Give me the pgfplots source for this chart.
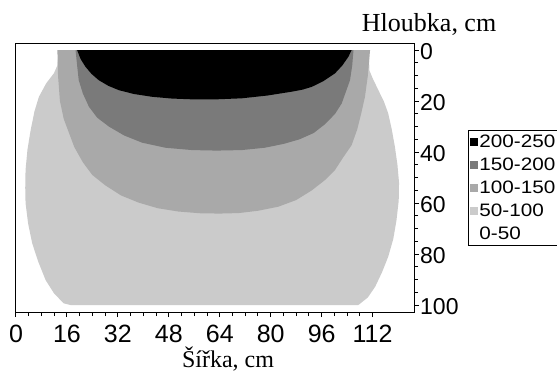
\documentclass[border=0pt]{standalone}
\usepackage{fontspec}
\usepackage{pgfplots}
\pgfplotsset{compat=1.18}
\newfontfamily\serif{Liberation Serif}
\newfontfamily\sans{Liberation Sans}
\newfontfamily\legfont[FakeStretch=1.15]{Liberation Sans}
\definecolor{cL}{HTML}{CBCBCB}
\definecolor{cM}{HTML}{A9A9A9}
\definecolor{cD}{HTML}{7A7A7A}
\definecolor{cB}{HTML}{000000}
\begin{document}
\begin{tikzpicture}
\begin{axis}[
 name=ax, at={(0,0)}, anchor=south west,
 scale only axis, width=398pt, height=268pt,
 xmin=0, xmax=125, ymin=-2.4, ymax=102.7, y dir=reverse,
 axis line style={line width=1pt},
 xtick={0,16,...,112}, minor x tick num=3,
 ytick={0,20,...,100}, minor y tick num=3,
 xtick pos=bottom, ytick pos=right, yticklabel pos=right,
 tick align=outside, major tick length=5pt, minor tick length=4pt,
 tick style={line width=1pt, black},
 /pgf/number format/assume math mode=true,
 xticklabel style={font=\sans\fontsize{25}{26}\selectfont, yshift=-5pt},
 yticklabel style={font=\sans\fontsize{23}{24}\selectfont, inner sep=1pt, yshift=-1pt},
 every axis x label/.style={at={(axis description cs:0.5327,-0.2127)}, anchor=base, yshift=2pt, inner sep=0pt, font=\serif\fontsize{24}{25}\selectfont},
 every axis y label/.style={at={(axis description cs:1.038,1.046)}, anchor=base, font=\serif\fontsize{26}{26}\selectfont},
 xlabel={Šířka, cm}, ylabel={Hloubka, cm},
 legend style={at={(axis description cs:1.1357,0.679)}, anchor=north west, draw=black, line width=0.8pt,
   font=\legfont\fontsize{18}{20}\selectfont, inner xsep=2pt, inner ysep=3pt, row sep=6pt,
   nodes={inner sep=1pt, text height=13pt, text depth=2pt}},
 legend cell align=left,
 legend image code/.code={\fill[#1, draw=none] (0pt,-4pt) rectangle (8pt,4pt);},
]
% 50-100
\addplot[fill=cL, draw=none, forget plot] coordinates {
(13.5,0) (13,6) (11.9,9.1) (9.5,13) (7.2,18.3) (5.8,24) (4.6,31.4) (3.6,39) (3.0,47) (2.9,54) (3.0,60) (3.8,68) (5.1,75.8) (7,83) (9.3,90.2) (12,95.5) (15,99.3) (17.2,100)
(107.5,100) (110.5,97) (112.8,92.8) (115,87) (116.9,81) (118.5,74) (119.5,66.7) (120.2,59) (120.3,52) (119.8,45) (119,37.9) (118,31) (116.9,24.8) (115.5,20) (113.8,15.7) (112,11) (111,8) (110.8,0)
} --cycle;
% 100-150
\addplot[fill=cM, draw=none, forget plot] coordinates {
(13,0) (13.2,10) (13.8,20) (15,27) (16.5,32) (18.3,38) (21,44) (24,49) (28,53) (33,57) (38.5,59.8) (44.5,62) (51,63.3) (58,64) (64,64.1) (70,63.9) (76,63) (82.4,61.4) (88,58.8) (92.9,55) (97,51) (100.2,47) (102.8,42) (105.4,37.3) (107.2,31) (108.4,25) (109.6,18.3) (110.5,10) (111.2,0)
} --cycle;
% 150-200
\addplot[fill=cD, draw=none, forget plot] coordinates {
(18.7,0) (19.2,6) (19.7,11.8) (21,17) (22.9,22.2) (25.5,26.5) (29.2,30) (34,33.5) (39.6,36.3) (47,38.3) (55.3,39.2) (63,39.4) (70.9,39.2) (78,38.3) (84,36.8) (89,35) (93.5,32.5) (97.1,29) (100.2,25) (102.3,20.9) (103.7,16) (104.9,11.8) (105.6,6) (106,0)
} --cycle;
% 200-250
\addplot[fill=cB, draw=none, forget plot] coordinates {
(19.2,0) (20.3,3.5) (21.8,6.5) (23.7,9.3) (26,11.8) (29,14) (32.3,15.7) (37,17.2) (42.7,18.3) (49,19) (55.3,19.3) (63,19.3) (70.9,18.9) (79,17.8) (86.6,16.3) (90,15.5) (92.9,14.4) (96.5,12.2) (100.2,9.1) (102.5,6) (104.4,2.6) (105.4,0)
} --cycle;
\addlegendimage{fill=cB}\addlegendentry{200-250}
\addlegendimage{fill=cD}\addlegendentry{150-200}
\addlegendimage{fill=cM}\addlegendentry{100-150}
\addlegendimage{fill=cL}\addlegendentry{50-100}
\addlegendimage{fill=white}\addlegendentry{0-50}
\end{axis}
\pgfresetboundingbox
\path (ax.south west) ++(-16pt,-62pt) rectangle ++(557pt,374pt);
\end{tikzpicture}
\end{document}
